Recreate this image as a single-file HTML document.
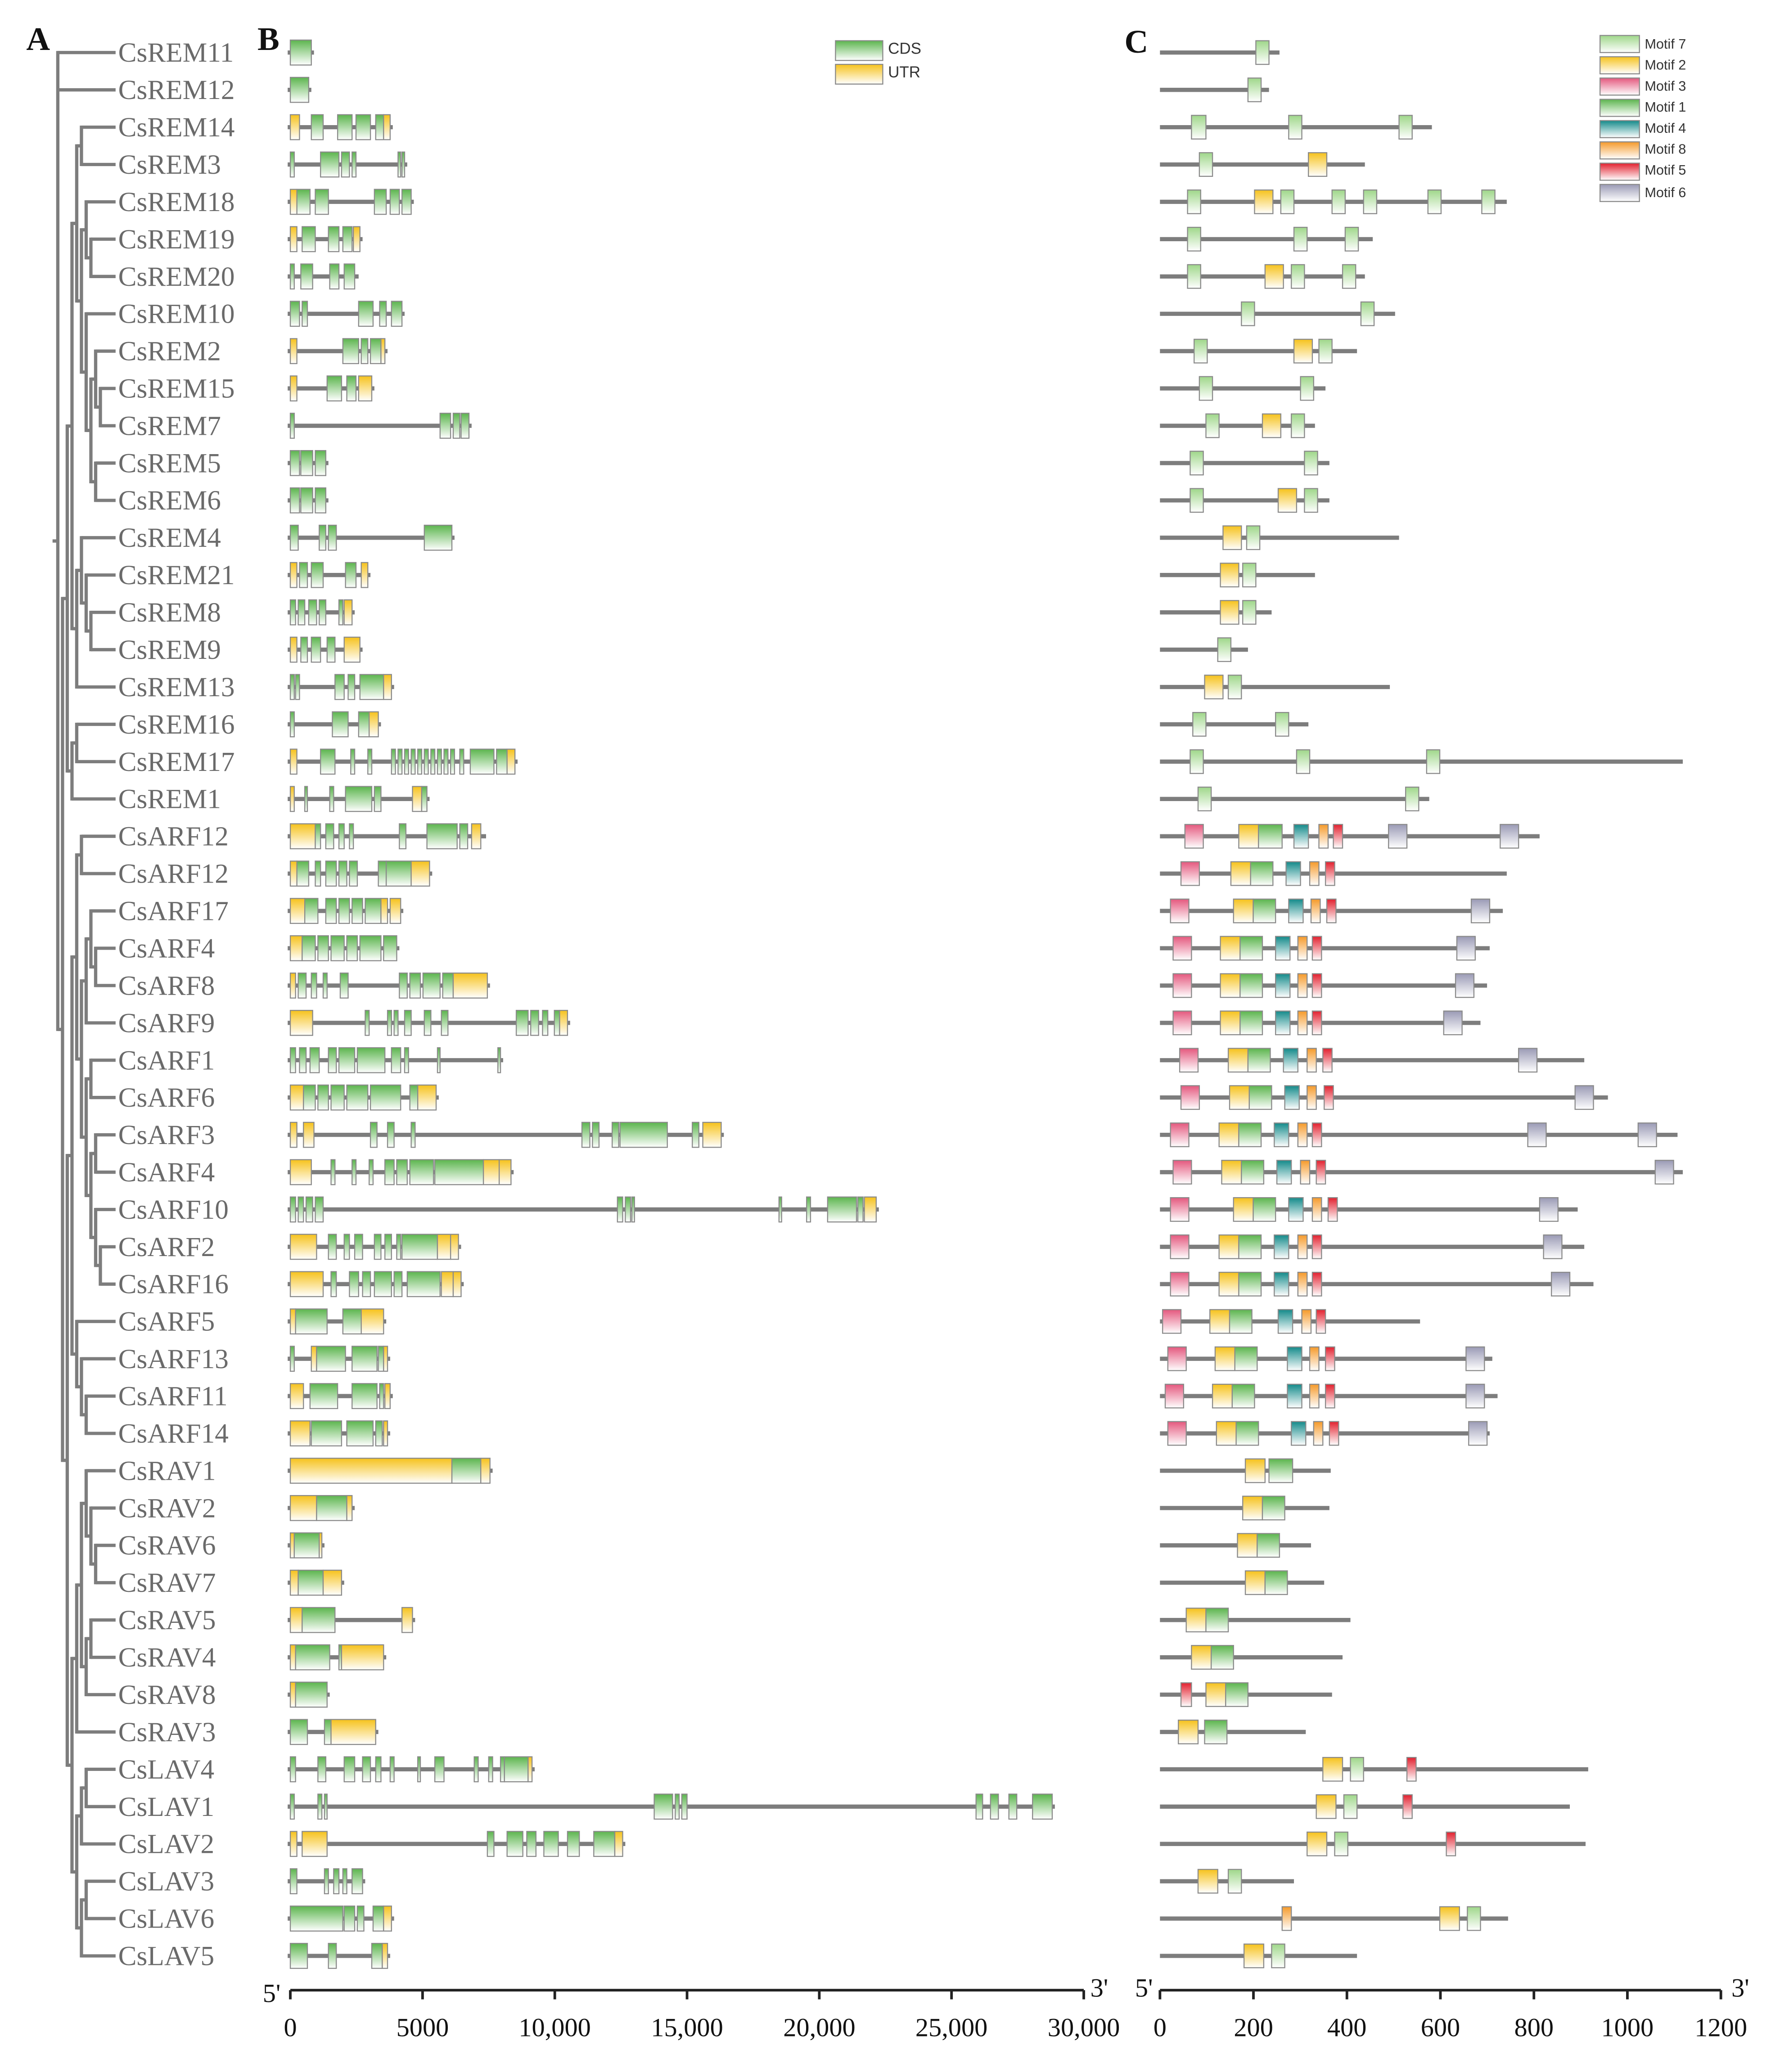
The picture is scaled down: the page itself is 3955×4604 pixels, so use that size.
<!DOCTYPE html>
<html><head><meta charset="utf-8"><style>
html,body{margin:0;padding:0;background:#fff}
svg{display:block}
.lb{font-family:"Liberation Serif",serif;font-size:21px;fill:#6a6a6a}
.ax{font-family:"Liberation Serif",serif;font-size:20px;fill:#111}
.pl{font-family:"Liberation Serif",serif;font-size:25px;font-weight:bold;fill:#111}
.lg{font-family:"Liberation Sans",sans-serif;font-size:12px;fill:#333}
.lg2{font-family:"Liberation Sans",sans-serif;font-size:10.5px;fill:#333}
</style></head><body>
<svg id="s" xmlns="http://www.w3.org/2000/svg" width="3955" height="4604" viewBox="0 0 1355 1577.3" preserveAspectRatio="none">
<defs>
<linearGradient id="g" x1="0" y1="0" x2="0" y2="1"><stop offset="0" stop-color="#5cb54e"/><stop offset="1" stop-color="#ffffff"/></linearGradient>
<linearGradient id="y" x1="0" y1="0" x2="0" y2="1"><stop offset="0" stop-color="#f6c21c"/><stop offset="1" stop-color="#ffffff"/></linearGradient>
<linearGradient id="m7" x1="0" y1="0" x2="0" y2="1"><stop offset="0" stop-color="#9fd78a"/><stop offset="1" stop-color="#ffffff"/></linearGradient>
<linearGradient id="m2" x1="0" y1="0" x2="0" y2="1"><stop offset="0" stop-color="#f6c21c"/><stop offset="1" stop-color="#ffffff"/></linearGradient>
<linearGradient id="m3" x1="0" y1="0" x2="0" y2="1"><stop offset="0" stop-color="#e4587e"/><stop offset="1" stop-color="#ffffff"/></linearGradient>
<linearGradient id="m1" x1="0" y1="0" x2="0" y2="1"><stop offset="0" stop-color="#5cb54e"/><stop offset="1" stop-color="#ffffff"/></linearGradient>
<linearGradient id="m4" x1="0" y1="0" x2="0" y2="1"><stop offset="0" stop-color="#138a8a"/><stop offset="1" stop-color="#ffffff"/></linearGradient>
<linearGradient id="m8" x1="0" y1="0" x2="0" y2="1"><stop offset="0" stop-color="#f59a2a"/><stop offset="1" stop-color="#ffffff"/></linearGradient>
<linearGradient id="m5" x1="0" y1="0" x2="0" y2="1"><stop offset="0" stop-color="#e2202e"/><stop offset="1" stop-color="#ffffff"/></linearGradient>
<linearGradient id="m6" x1="0" y1="0" x2="0" y2="1"><stop offset="0" stop-color="#9a9ab5"/><stop offset="1" stop-color="#ffffff"/></linearGradient>
</defs>
<g id="shapes"></g>
<text class="pl" x="20" y="38">A</text>
<text class="pl" x="196" y="38">B</text>
<text class="pl" x="856" y="40">C</text>
<g class="lb">
<text x="90" y="47">CsREM11</text><text x="90" y="75.4">CsREM12</text><text x="90" y="103.8">CsREM14</text><text x="90" y="132.2">CsREM3</text><text x="90" y="160.6">CsREM18</text><text x="90" y="189.1">CsREM19</text><text x="90" y="217.5">CsREM20</text><text x="90" y="245.9">CsREM10</text><text x="90" y="274.3">CsREM2</text><text x="90" y="302.7">CsREM15</text><text x="90" y="331.1">CsREM7</text><text x="90" y="359.5">CsREM5</text><text x="90" y="387.9">CsREM6</text><text x="90" y="416.3">CsREM4</text><text x="90" y="444.7">CsREM21</text><text x="90" y="473.2">CsREM8</text><text x="90" y="501.6">CsREM9</text><text x="90" y="530">CsREM13</text><text x="90" y="558.4">CsREM16</text><text x="90" y="586.8">CsREM17</text><text x="90" y="615.2">CsREM1</text><text x="90" y="643.6">CsARF12</text><text x="90" y="672">CsARF12</text><text x="90" y="700.4">CsARF17</text><text x="90" y="728.8">CsARF4</text><text x="90" y="757.3">CsARF8</text><text x="90" y="785.7">CsARF9</text><text x="90" y="814.1">CsARF1</text><text x="90" y="842.5">CsARF6</text><text x="90" y="870.9">CsARF3</text><text x="90" y="899.3">CsARF4</text><text x="90" y="927.7">CsARF10</text><text x="90" y="956.1">CsARF2</text><text x="90" y="984.5">CsARF16</text><text x="90" y="1012.9">CsARF5</text><text x="90" y="1041.4">CsARF13</text><text x="90" y="1069.8">CsARF11</text><text x="90" y="1098.2">CsARF14</text><text x="90" y="1126.6">CsRAV1</text><text x="90" y="1155">CsRAV2</text><text x="90" y="1183.4">CsRAV6</text><text x="90" y="1211.8">CsRAV7</text><text x="90" y="1240.2">CsRAV5</text><text x="90" y="1268.6">CsRAV4</text><text x="90" y="1297">CsRAV8</text><text x="90" y="1325.5">CsRAV3</text><text x="90" y="1353.9">CsLAV4</text><text x="90" y="1382.3">CsLAV1</text><text x="90" y="1410.7">CsLAV2</text><text x="90" y="1439.1">CsLAV3</text><text x="90" y="1467.5">CsLAV6</text><text x="90" y="1495.9">CsLAV5</text>
</g>
<g class="ax">
<text x="200" y="1524">5'</text><text x="830" y="1520">3'</text>
<text x="221" y="1550" text-anchor="middle">0</text>
<text x="321.7" y="1550" text-anchor="middle">5000</text>
<text x="422.3" y="1550" text-anchor="middle">10,000</text>
<text x="523" y="1550" text-anchor="middle">15,000</text>
<text x="623.7" y="1550" text-anchor="middle">20,000</text>
<text x="724.3" y="1550" text-anchor="middle">25,000</text>
<text x="825" y="1550" text-anchor="middle">30,000</text>
<text x="864" y="1520">5'</text><text x="1318" y="1520">3'</text>
<text x="883" y="1550" text-anchor="middle">0</text>
<text x="954.2" y="1550" text-anchor="middle">200</text>
<text x="1025.3" y="1550" text-anchor="middle">400</text>
<text x="1096.5" y="1550" text-anchor="middle">600</text>
<text x="1167.7" y="1550" text-anchor="middle">800</text>
<text x="1238.8" y="1550" text-anchor="middle">1000</text>
<text x="1310" y="1550" text-anchor="middle">1200</text>
</g>
<g class="lg"><text x="676" y="41">CDS</text><text x="676" y="59">UTR</text></g>
<g class="lg2">
<text x="1252" y="37">Motif 7</text><text x="1252" y="53">Motif 2</text><text x="1252" y="69">Motif 3</text><text x="1252" y="85">Motif 1</text><text x="1252" y="101">Motif 4</text><text x="1252" y="117">Motif 8</text><text x="1252" y="133">Motif 5</text><text x="1252" y="150">Motif 6</text>
</g>
</svg>
<script>
var NS="http://www.w3.org/2000/svg",G=document.getElementById("shapes");
function el(t,a){var e=document.createElementNS(NS,t);for(var k in a)e.setAttribute(k,a[k]);G.appendChild(e);return e;}
function Y(i){return 40+i*28.41;}
var LC="#7d7d7d";
var B=[
[237,[[221,237,'g']]],[235,[[221,235,'g']]],
[297,[[221,228,'y'],[237,246,'g'],[257,268,'g'],[271,282,'g'],[286,292,'g'],[292,297,'y']]],
[308,[[221,224,'g'],[244,258,'g'],[260,266,'g'],[268,271,'g'],[303,305,'g'],[306,308,'g']]],
[313,[[221,226,'y'],[226,236,'g'],[240,250,'g'],[285,294,'g'],[297,304,'g'],[306,313,'g']]],
[274,[[221,226,'y'],[230,240,'g'],[250,258,'g'],[261,268,'g'],[269,274,'y']]],
[271,[[221,224,'g'],[229,238,'g'],[251,258,'g'],[262,270,'g']]],
[306,[[221,228,'g'],[230,234,'g'],[273,284,'g'],[289,294,'g'],[298,306,'g']]],
[293,[[221,226,'y'],[261,273,'g'],[275,280,'g'],[282,290,'g'],[290,293,'y']]],
[283,[[221,226,'y'],[249,260,'g'],[264,271,'g'],[273,283,'y']]],
[357,[[221,224,'g'],[335,343,'g'],[345,350,'g'],[351,357,'g']]],
[248,[[221,228,'g'],[229,238,'g'],[240,248,'g']]],
[248,[[221,228,'g'],[229,238,'g'],[240,248,'g']]],
[344,[[221,227,'g'],[243,248,'g'],[250,256,'g'],[323,344,'g']]],
[280,[[221,226,'y'],[228,234,'g'],[237,246,'g'],[263,271,'g'],[275,280,'y']]],
[268,[[221,225,'g'],[227,232,'g'],[235,241,'g'],[243,248,'g'],[258,261,'g'],[262,268,'y']]],
[274,[[221,226,'y'],[229,234,'g'],[237,244,'g'],[249,255,'g'],[262,274,'y']]],
[298,[[221,224,'g'],[225,228,'g'],[255,262,'g'],[265,270,'g'],[274,292,'g'],[292,298,'y']]],
[288,[[221,224,'g'],[253,265,'g'],[273,281,'g'],[281,288,'y']]],
[392,[[221,226,'y'],[244,255,'g'],[267,270,'g'],[280,283,'g'],[298,301,'g'],[303,306,'g'],[308,311,'g'],[313,316,'g'],[318,321,'g'],[323,326,'g'],[328,331,'g'],[333,336,'g'],[338,341,'g'],[343,346,'g'],[350,353,'g'],[358,376,'g'],[378,386,'g'],[386,392,'y']]],
[325,[[221,224,'y'],[232,234,'g'],[251,254,'g'],[263,283,'g'],[285,290,'g'],[314,321,'y'],[321,325,'g']]],
[368,[[221,240,'y'],[240,244,'g'],[248,254,'g'],[258,262,'g'],[266,269,'g'],[304,309,'g'],[325,348,'g'],[350,356,'g'],[359,366,'y']]],
[327,[[221,226,'y'],[226,235,'g'],[240,244,'g'],[248,256,'g'],[258,264,'g'],[266,272,'g'],[288,294,'g'],[294,313,'g'],[313,327,'y']]],
[305,[[221,232,'y'],[232,242,'g'],[248,256,'g'],[258,266,'g'],[268,276,'g'],[278,290,'g'],[290,295,'y'],[297,305,'y']]],
[302,[[221,230,'y'],[230,240,'g'],[242,250,'g'],[252,262,'g'],[264,272,'g'],[274,290,'g'],[292,302,'g']]],
[371,[[221,225,'y'],[227,233,'g'],[237,241,'g'],[246,249,'g'],[259,265,'g'],[304,310,'g'],[312,320,'g'],[322,335,'g'],[337,345,'g'],[345,371,'y']]],
[432,[[221,238,'y'],[278,281,'g'],[295,298,'g'],[300,303,'g'],[308,313,'g'],[323,328,'g'],[336,341,'g'],[393,402,'g'],[404,410,'g'],[413,417,'g'],[422,426,'g'],[426,432,'y']]],
[381,[[221,225,'g'],[228,233,'g'],[236,243,'g'],[250,256,'g'],[258,270,'g'],[272,293,'g'],[298,305,'g'],[308,311,'g'],[333,335,'g'],[379,381,'g']]],
[332,[[221,231,'y'],[231,240,'g'],[242,250,'g'],[252,262,'g'],[264,280,'g'],[282,305,'g'],[312,318,'g'],[318,332,'y']]],
[549,[[221,226,'y'],[231,239,'y'],[282,287,'g'],[295,300,'g'],[313,316,'g'],[443,449,'g'],[451,456,'g'],[466,471,'g'],[472,508,'g'],[527,532,'g'],[535,549,'y']]],
[389,[[221,237,'y'],[252,255,'g'],[268,271,'g'],[281,284,'g'],[293,300,'g'],[302,310,'g'],[312,330,'g'],[331,368,'g'],[368,380,'y'],[380,389,'y']]],
[667,[[221,225,'g'],[227,231,'g'],[233,238,'g'],[240,246,'g'],[470,474,'g'],[476,480,'g'],[481,483,'g'],[593,595,'g'],[614,617,'g'],[630,652,'g'],[653,657,'g'],[658,667,'y']]],
[349,[[221,241,'y'],[250,256,'g'],[262,266,'g'],[270,276,'g'],[285,290,'g'],[293,298,'g'],[302,305,'g'],[306,333,'g'],[333,343,'y'],[343,349,'y']]],
[351,[[221,246,'y'],[252,256,'g'],[266,273,'g'],[276,282,'g'],[285,298,'g'],[300,306,'g'],[310,335,'g'],[336,345,'y'],[345,351,'y']]],
[292,[[221,225,'y'],[225,249,'g'],[261,275,'g'],[275,292,'y']]],
[295,[[221,224,'g'],[237,241,'y'],[241,263,'g'],[268,287,'g'],[288,292,'g'],[292,295,'y']]],
[297,[[221,231,'y'],[236,257,'g'],[268,287,'g'],[289,292,'g'],[293,297,'y']]],
[295,[[221,236,'y'],[237,260,'g'],[264,284,'g'],[286,291,'g'],[292,295,'y']]],
[373,[[221,344,'y'],[344,366,'g'],[366,373,'y']]],
[268,[[221,241,'y'],[241,264,'g'],[264,268,'y']]],
[245,[[221,224,'y'],[224,243,'g'],[243,245,'y']]],
[260,[[221,227,'y'],[227,246,'g'],[246,260,'y']]],
[314,[[221,230,'y'],[230,255,'g'],[306,314,'y']]],
[292,[[221,225,'y'],[225,251,'g'],[258,260,'g'],[260,292,'y']]],
[249,[[221,225,'y'],[225,249,'g']]],
[286,[[221,234,'g'],[247,252,'g'],[252,286,'y']]],
[405,[[221,225,'g'],[242,248,'g'],[262,270,'g'],[276,282,'g'],[286,290,'g'],[297,300,'g'],[318,320,'g'],[331,338,'g'],[361,364,'g'],[372,375,'g'],[381,384,'g'],[384,402,'g'],[402,405,'y']]],
[801,[[221,224,'g'],[242,245,'g'],[247,249,'g'],[498,512,'g'],[514,517,'g'],[519,523,'g'],[743,748,'g'],[754,760,'g'],[768,774,'g'],[786,801,'g']]],
[474,[[221,226,'y'],[230,249,'y'],[371,376,'g'],[386,398,'g'],[401,408,'g'],[414,425,'g'],[432,441,'g'],[452,468,'g'],[468,474,'y']]],
[276,[[221,226,'g'],[247,250,'g'],[254,258,'g'],[261,264,'g'],[268,276,'g']]],
[298,[[221,261,'g'],[262,270,'g'],[272,277,'g'],[284,292,'g'],[292,298,'y']]],
[295,[[221,234,'g'],[250,256,'g'],[283,291,'g'],[291,295,'y']]]];
var C=[
[974,[[956,966,7]]],[966,[[950,960,7]]],
[1090,[[907,918,7],[981,991,7],[1065,1075,7]]],
[1039,[[913,923,7],[996,1010,2]]],
[1147,[[904,914,7],[955,969,2],[975,985,7],[1014,1024,7],[1038,1048,7],[1087,1097,7],[1128,1138,7]]],
[1045,[[904,914,7],[985,995,7],[1024,1034,7]]],
[1039,[[904,914,7],[963,977,2],[983,993,7],[1022,1032,7]]],
[1062,[[945,955,7],[1036,1046,7]]],
[1033,[[909,919,7],[985,999,2],[1004,1014,7]]],
[1009,[[913,923,7],[990,1000,7]]],
[1001,[[918,928,7],[961,975,2],[983,993,7]]],
[1012,[[906,916,7],[993,1003,7]]],
[1012,[[906,916,7],[973,987,2],[993,1003,7]]],
[1065,[[931,945,2],[949,959,7]]],
[1001,[[929,943,2],[946,956,7]]],
[968,[[929,943,2],[946,956,7]]],
[950,[[927,937,7]]],
[1058,[[917,931,2],[935,945,7]]],
[996,[[908,918,7],[971,981,7]]],
[1281,[[906,916,7],[987,997,7],[1086,1096,7]]],
[1088,[[912,922,7],[1070,1080,7]]],
[1172,[[902,916,3],[943,958,2],[958,976,1],[985,996,4],[1004,1011,8],[1015,1022,5],[1057,1071,6],[1142,1156,6]]],
[1147,[[899,913,3],[937,952,2],[952,969,1],[979,990,4],[997,1004,8],[1009,1016,5]]],
[1144,[[891,905,3],[939,954,2],[954,971,1],[981,992,4],[998,1005,8],[1010,1017,5],[1120,1134,6]]],
[1134,[[893,907,3],[929,944,2],[944,961,1],[971,982,4],[988,995,8],[999,1006,5],[1109,1123,6]]],
[1132,[[893,907,3],[929,944,2],[944,961,1],[971,982,4],[988,995,8],[999,1006,5],[1108,1122,6]]],
[1127,[[893,907,3],[929,944,2],[944,961,1],[971,982,4],[988,995,8],[999,1006,5],[1099,1113,6]]],
[1206,[[898,912,3],[935,950,2],[950,967,1],[977,988,4],[995,1002,8],[1007,1014,5],[1156,1170,6]]],
[1224,[[899,913,3],[936,951,2],[951,968,1],[978,989,4],[995,1002,8],[1008,1015,5],[1199,1213,6]]],
[1277,[[891,905,3],[928,943,2],[943,960,1],[970,981,4],[988,995,8],[999,1006,5],[1163,1177,6],[1247,1261,6]]],
[1281,[[893,907,3],[930,945,2],[945,962,1],[972,983,4],[990,997,8],[1002,1009,5],[1260,1274,6]]],
[1201,[[891,905,3],[939,954,2],[954,971,1],[981,992,4],[999,1006,8],[1011,1018,5],[1172,1186,6]]],
[1206,[[891,905,3],[928,943,2],[943,960,1],[970,981,4],[988,995,8],[999,1006,5],[1175,1189,6]]],
[1213,[[891,905,3],[928,943,2],[943,960,1],[970,981,4],[988,995,8],[999,1006,5],[1181,1195,6]]],
[1081,[[885,899,3],[921,936,2],[936,953,1],[973,984,4],[991,998,8],[1002,1009,5]]],
[1136,[[889,903,3],[925,940,2],[940,957,1],[980,991,4],[997,1004,8],[1009,1016,5],[1116,1130,6]]],
[1140,[[887,901,3],[923,938,2],[938,955,1],[980,991,4],[997,1004,8],[1009,1016,5],[1116,1130,6]]],
[1134,[[889,903,3],[926,941,2],[941,958,1],[983,994,4],[1000,1007,8],[1012,1019,5],[1118,1132,6]]],
[1013,[[948,963,2],[966,984,1]]],
[1012,[[946,961,2],[961,978,1]]],
[998,[[942,957,2],[957,974,1]]],
[1008,[[948,963,2],[963,980,1]]],
[1028,[[903,918,2],[918,935,1]]],
[1022,[[907,922,2],[922,939,1]]],
[1014,[[899,907,5],[918,933,2],[933,950,1]]],
[994,[[897,912,2],[917,934,1]]],
[1209,[[1007,1022,2],[1028,1038,7],[1071,1078,5]]],
[1195,[[1002,1017,2],[1023,1033,7],[1068,1075,5]]],
[1207,[[995,1010,2],[1016,1026,7],[1101,1108,5]]],
[985,[[912,927,2],[935,945,7]]],
[1148,[[976,983,8],[1096,1111,2],[1117,1127,7]]],
[1033,[[947,962,2],[968,978,7]]]];
B.forEach(function(r,i){var y=Y(i);
 el("line",{x1:219,y1:y,x2:r[0]+2,y2:y,stroke:LC,"stroke-width":3.2});
 r[1].forEach(function(b){el("rect",{x:b[0],y:y-9.5,width:Math.max(b[1]-b[0],1.5),height:19,fill:"url(#"+b[2]+")",stroke:"#8a8a8a","stroke-width":0.8});});});
C.forEach(function(r,i){var y=Y(i);
 el("line",{x1:883,y1:y,x2:r[0],y2:y,stroke:LC,"stroke-width":3.2});
 r[1].forEach(function(b){el("rect",{x:b[0],y:y-9,width:b[1]-b[0],height:18,fill:"url(#m"+b[2]+")",stroke:"#8a8a8a","stroke-width":0.8});});});
// legends
el("rect",{x:636,y:31,width:36,height:15,fill:"url(#g)",stroke:"#8a8a8a","stroke-width":0.8});
el("rect",{x:636,y:49,width:36,height:15,fill:"url(#y)",stroke:"#8a8a8a","stroke-width":0.8});
[7,2,3,1,4,8,5,6].forEach(function(m,k){el("rect",{x:1218,y:27+k*16.2,width:30,height:13,fill:"url(#m"+m+")",stroke:"#8a8a8a","stroke-width":0.8});});
// axes
function axis(x0,x1,n){el("line",{x1:x0,y1:1515,x2:x1,y2:1515,stroke:"#222","stroke-width":2});
 for(var k=0;k<=n;k++){var x=x0+(x1-x0)*k/n;el("line",{x1:x,y1:1515,x2:x,y2:1522,stroke:"#222","stroke-width":2});}}
axis(221,825,6);axis(883,1310,6);
// tree
var REM=[[[[2,3],[[4,[5,6]],[7,[[8,[9,10]],[11,12]]]]],[[13,[14,[15,16]]],17]],[[18,19],20]];
var ARF=[[[21,22],[[[23,[24,25]],26],[[27,28],[[29,30],[31,[32,33]]]]]],[34,[35,[36,37]]]];
var RAV=[[[38,[39,[40,41]]],[[42,43],44]],45];
var LAV=[[[46,47],48],[[49,50],51]];
var root=[0,1,[REM,[ARF,[RAV,LAV]]]];
function draw(n,d){if(typeof n==="number")return {x:88,y:Y(n)};
 var x=44+d*3.6,ys=[];
 n.forEach(function(c){var r=draw(c,d+1);ys.push(r.y);el("line",{x1:x,y1:r.y,x2:r.x,y2:r.y,stroke:LC,"stroke-width":2.5});});
 var a=Math.min.apply(null,ys),b=Math.max.apply(null,ys);
 el("line",{x1:x,y1:a-1.2,x2:x,y2:b+1.2,stroke:LC,"stroke-width":2.5});
 return {x:x,y:(a+b)/2};}
var r=draw(root,0);el("line",{x1:40,y1:r.y,x2:44,y2:r.y,stroke:LC,"stroke-width":2.5});
</script>
</body></html>
